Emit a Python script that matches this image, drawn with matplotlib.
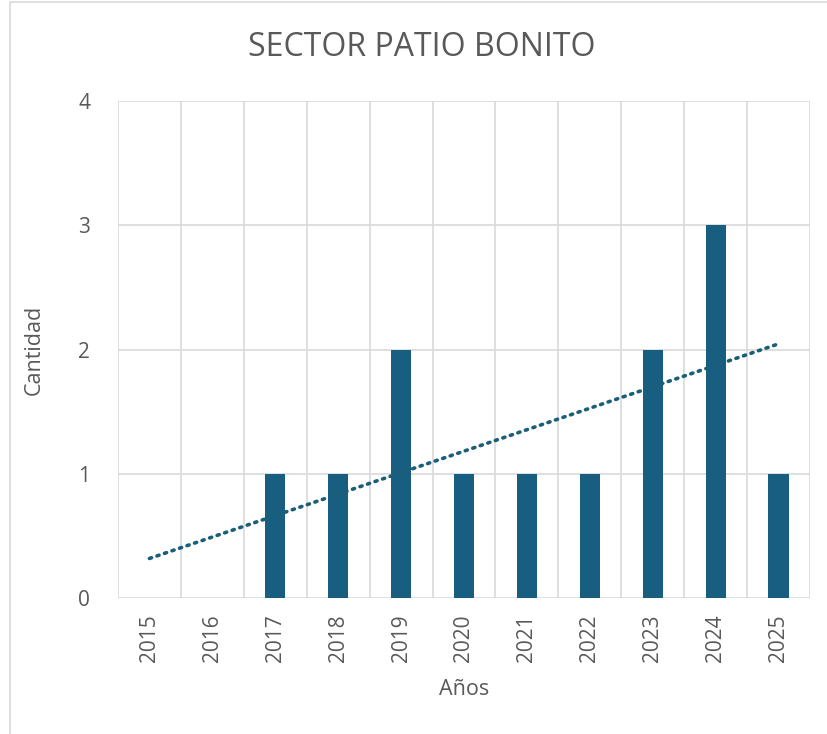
import numpy as np
import matplotlib.pyplot as plt
from matplotlib.patches import Rectangle

years = ['2015', '2016', '2017', '2018', '2019', '2020', '2021', '2022', '2023', '2024', '2025']
cantidad = [0, 0, 1, 1, 2, 1, 1, 1, 2, 3, 1]

plt.rcParams['font.family'] = ['Open Sans', 'DejaVu Sans']

bar_color = '#175e80'
grid_color = '#d9d9d9'
text_color = '#595959'

fig = plt.figure(figsize=(8.27, 7.34), dpi=100)
# chart frame (only top and left edges visible in the picture)
fig.patches.append(Rectangle((10/827, -0.1), 1.2, 1.1 - 2/734, transform=fig.transFigure,
                             fill=False, edgecolor=grid_color, linewidth=1.2))

ax = fig.add_axes([118/827, 1 - 598/734, (810 - 118)/827, (598 - 101)/734])

ind = np.arange(len(years))
ax.bar(ind, cantidad, 0.32, color=bar_color, zorder=3)

# linear trend line
coef = np.polyfit(ind, cantidad, 1)
ax.plot(ind, np.polyval(coef, ind), linestyle=(0, (0.6, 1.6)), dash_capstyle='round',
        color='#1a5e78', linewidth=2.6, zorder=4)

ax.set_xlim(-0.5, len(years) - 0.5)
ax.set_ylim(0, 4)
ax.set_yticks([0, 1, 2, 3, 4])
ax.set_xticks(ind)
ax.set_xticklabels(years, rotation=90)
ax.set_xticks(np.arange(-0.5, len(years), 1), minor=True)
ax.grid(True, which='minor', axis='x', color=grid_color, linewidth=1.2, zorder=0)
ax.grid(True, which='major', axis='y', color=grid_color, linewidth=1.2, zorder=0)
ax.tick_params(which='both', length=0)
ax.tick_params(axis='x', pad=12, labelsize=15, labelcolor=text_color)
ax.tick_params(axis='y', pad=20, labelsize=15, labelcolor=text_color)
for s in ax.spines.values():
    s.set_visible(False)

ax.set_xlabel('Años', fontsize=15.5, color=text_color, labelpad=12)
ax.set_ylabel('Cantidad', fontsize=15.5, color=text_color, labelpad=24)
fig.text(422/827, 1 - 47/734, 'SECTOR PATIO BONITO', ha='center', va='center',
         fontsize=23, color=text_color)

fig.savefig('out.png', dpi=100)
